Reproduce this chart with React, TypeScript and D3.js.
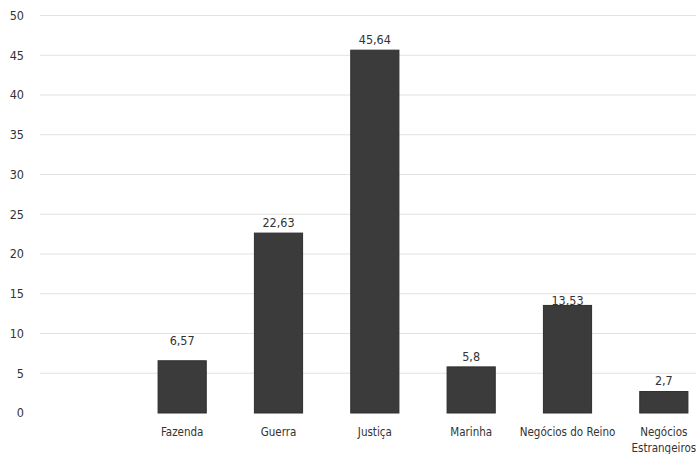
import React from "react";
import * as d3 from "d3";

// Share per ministry (percent)
const categories: string[] = [
  "Fazenda",
  "Guerra",
  "Justiça",
  "Marinha",
  "Negócios do Reino",
  "Negócios Estrangeiros",
];
const values: number[] = [6.57, 22.63, 45.64, 5.8, 13.53, 2.7];
const valueLabels: string[] = ["6,57", "22,63", "45,64", "5,8", "13,53", "2,7"];
const yTicks: number[] = [0, 5, 10, 15, 20, 25, 30, 35, 40, 45, 50];

const WIDTH = 696;
const HEIGHT = 454;
const FONT = "'DejaVu Sans Condensed', 'DejaVu Sans', sans-serif";

// Multi-line category names
const categoryLines: Record<string, string[]> = {
  "Negócios Estrangeiros": ["Negócios", "Estrangeiros"],
};

// Extra lift of individual value labels above their bar
const labelLift: Record<string, number> = {
  Fazenda: 20,
  "Negócios do Reino": 5,
};

export default function App() {
  const x = d3
    .scaleBand<string>()
    .domain(categories)
    .range([134, 712])
    .paddingInner(0.5)
    .paddingOuter(0.25);

  const y = d3.scaleLinear().domain([0, 50]).range([413, 15.5]);

  return (
    <svg
      width={WIDTH}
      height={HEIGHT}
      style={{ position: "absolute", left: 0, top: 0, background: "#fff", fontStretch: "condensed" }}
      fontFamily={FONT}
    >
      <g>
        {yTicks.map((t) => (
          <g key={t}>
            {t > 0 && (
              <line
                x1={40}
                x2={WIDTH}
                y1={y(t)}
                y2={y(t)}
                stroke="#e2e2e2"
                strokeWidth={1.2}
              />
            )}
            <text
              x={24}
              y={y(t)}
              dy="0.35em"
              textAnchor="end"
              fontSize={12.5}
              fill="#333"
            >
              {t}
            </text>
          </g>
        ))}
      </g>
      <g>
        {categories.map((c, i) => {
          const x0 = x(c) as number;
          const bw = x.bandwidth();
          const top = y(values[i]);
          const lift = labelLift[c] ?? 10.5;
          const lines = categoryLines[c] ?? [c];
          return (
            <g key={c}>
              <rect
                x={x0}
                y={top}
                width={bw}
                height={y(0) - top}
                fill="#3b3b3b"
                stroke="#2e2e2e"
                strokeWidth={1}
              />
              <text
                x={x0 + bw / 2}
                y={top - lift}
                dy="0.35em"
                textAnchor="middle"
                fontSize={12.5}
                fill="#333"
              >
                {valueLabels[i]}
              </text>
              {lines.map((ln, j) => (
                <text
                  key={ln}
                  x={x0 + bw / 2}
                  y={431.5 + j * 16}
                  dy="0.35em"
                  textAnchor="middle"
                  fontSize={11.5}
                  fill="#333"
                >
                  {ln}
                </text>
              ))}
            </g>
          );
        })}
      </g>
    </svg>
  );
}
